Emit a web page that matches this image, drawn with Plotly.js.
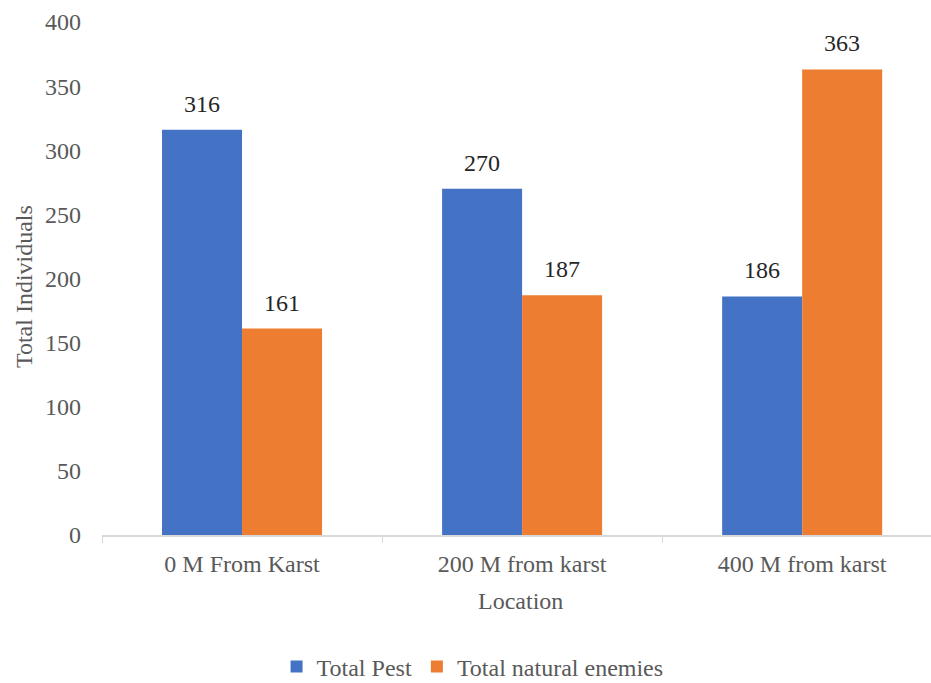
<!DOCTYPE html>
<html>
<head>
<meta charset="utf-8">
<script src="https://cdn.plot.ly/plotly-3.0.1.min.js"></script>
<style>html,body{margin:0;padding:0;background:#fff;}#chart{width:931px;height:683px;}</style>
</head>
<body>
<div id="chart"></div>
<script>
const categories = ["0 M From Karst", "200 M from karst", "400 M from karst"];
const totalPest = [316, 270, 186];
const totalNaturalEnemies = [161, 187, 363];
const seriesNames = ["Total Pest", "Total natural enemies"];
const yTicks = [0, 50, 100, 150, 200, 250, 300, 350, 400];
const xTitle = "Location";
const yTitle = "Total Individuals";

const FONT = "Liberation Serif, Tinos, Times New Roman, Times, serif";
const FS = 24;
const colors = ["#4472C4", "#ED7D31"];
const seriesData = [totalPest, totalNaturalEnemies];

const traces = seriesData.map((vals, k) => ({
  type: "bar",
  name: seriesNames[k],
  x: categories,
  y: vals,
  marker: {color: colors[k]},
  hoverinfo: "none"
}));

const annotations = [];
const half = 0.2857 / 2;
seriesData.forEach((vals, k) => {
  vals.forEach((v, i) => {
    annotations.push({
      x: i + (k === 0 ? -half : half),
      y: v,
      xref: "x", yref: "y",
      text: String(v),
      showarrow: false,
      yanchor: "bottom",
      yshift: 11,
      font: {family: FONT, size: FS, color: "#262626"}
    });
  });
});
annotations.push({
  xref: "paper", yref: "paper",
  x: 0.5054, y: -0.1287,
  xanchor: "center", yanchor: "middle",
  text: xTitle, showarrow: false,
  font: {family: FONT, size: FS, color: "#595959"}
});
annotations.push({
  xref: "paper", yref: "paper",
  x: -0.094, y: 0.4834,
  xanchor: "center", yanchor: "middle",
  textangle: -90,
  text: yTitle, showarrow: false,
  font: {family: FONT, size: FS, color: "#595959"}
});

const layout = {
  width: 931, height: 683,
  margin: {l: 102, r: 0, t: 22, b: 148, autoexpand: false},
  paper_bgcolor: "#fff", plot_bgcolor: "#fff",
  font: {family: FONT, color: "#595959", size: FS},
  barmode: "group",
  bargap: 0.4286,
  bargroupgap: 0,
  showlegend: true,
  legend: {
    orientation: "h",
    x: 0.447, xanchor: "center",
    y: -0.257, yanchor: "middle",
    font: {family: FONT, size: FS, color: "#595959"},
    itemwidth: 30,
    traceorder: "normal"
  },
  xaxis: {
    type: "category",
    range: [-0.5, 2.46],
    showline: true,
    linecolor: "#d9d9d9",
    linewidth: 1.5,
    ticks: "outside",
    tickson: "boundaries",
    ticklen: 6,
    tickcolor: "#d9d9d9",
    ticklabelstandoff: 7,
    tickfont: {family: FONT, size: FS, color: "#595959"},
    showgrid: false,
    zeroline: false,
    automargin: false
  },
  yaxis: {
    range: [0, 400],
    tickvals: yTicks,
    ticktext: yTicks.map(String),
    showgrid: false,
    zeroline: false,
    showline: false,
    ticks: "",
    automargin: false,
    ticklabelstandoff: 20,
    tickfont: {family: FONT, size: FS, color: "#595959"}
  },
  annotations: annotations
};

Plotly.newPlot("chart", traces, layout, {staticPlot: true, displayModeBar: false});
</script>
</body>
</html>
